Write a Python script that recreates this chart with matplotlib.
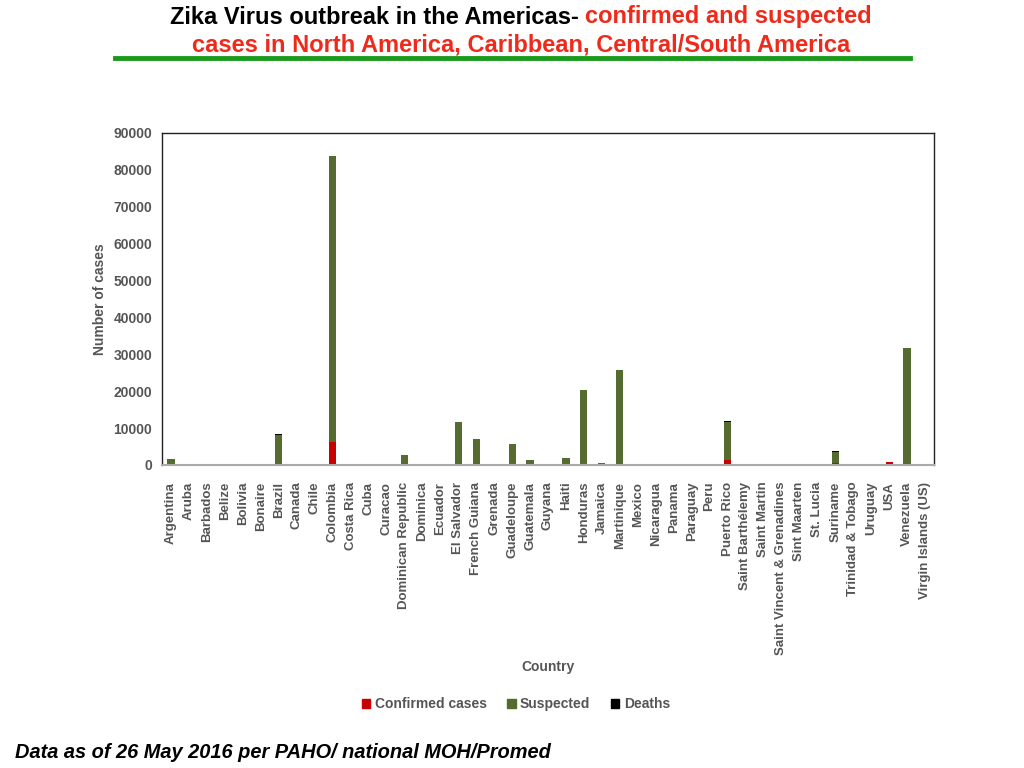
import matplotlib
matplotlib.use("Agg")
import matplotlib.pyplot as plt
from matplotlib.patches import Patch
from matplotlib.lines import Line2D
from matplotlib import font_manager
import numpy as np

countries = ["Argentina", "Aruba", "Barbados", "Belize", "Bolivia", "Bonaire", "Brazil",
             "Canada", "Chile", "Colombia", "Costa Rica", "Cuba", "Curacao",
             "Dominican Republic", "Dominica", "Ecuador", "El Salvador", "French Guiana",
             "Grenada", "Guadeloupe", "Guatemala", "Guyana", "Haiti", "Honduras", "Jamaica",
             "Martinique", "Mexico", "Nicaragua", "Panama", "Paraguay", "Peru", "Puerto Rico",
             "Saint Barthélemy", "Saint Martin", "Saint Vincent & Grenadines", "Sint Maarten",
             "St. Lucia", "Suriname", "Trinidad & Tobago", "Uruguay", "USA", "Venezuela",
             "Virgin Islands (US)"]
confirmed = [20, 100, 50, 50, 100, 20, 100,
             50, 60, 6300, 50, 20, 80,
             100, 50, 150, 50, 400,
             50, 100, 100, 50, 20, 50, 50,
             50, 300, 150, 200, 50, 100, 1400,
             50, 100, 50, 50,
             50, 600, 100, 0, 700, 0,
             50]
suspected = [1700, 0, 0, 0, 0, 0, 8100,
             0, 0, 77500, 0, 0, 0,
             2500, 0, 0, 11600, 6600,
             0, 5600, 1300, 0, 2000, 20200, 600,
             25700, 0, 0, 0, 0, 0, 10300,
             0, 0, 0, 0,
             0, 2900, 0, 0, 0, 31700,
             0]
deaths = [0, 0, 0, 0, 0, 0, 250,
          0, 0, 0, 0, 0, 0,
          0, 0, 0, 0, 0,
          0, 0, 0, 0, 0, 200, 0,
          0, 0, 0, 0, 0, 0, 300,
          0, 0, 0, 0,
          0, 250, 0, 0, 0, 0,
          0]
series_names = ["Confirmed cases", "Suspected", "Deaths"]
yticks = [0, 10000, 20000, 30000, 40000, 50000, 60000, 70000, 80000, 90000]

RED = "#c80000"
GREEN = "#556b2f"
BLACK = "#000000"
GRAY = "#555555"

names = {f.name for f in font_manager.fontManager.ttflist}
base = "Liberation Sans" if "Liberation Sans" in names else "DejaVu Sans"
narrow = "Liberation Sans Narrow" if "Liberation Sans Narrow" in names else base
plt.rcParams["font.family"] = [base, "DejaVu Sans"]

fig = plt.figure(figsize=(10.24, 7.68), dpi=100)
ax = fig.add_axes([162/1024, 1-465/768, 772/1024, 332/768])

x = np.arange(len(countries))
conf = np.array(confirmed, float)
susp = np.array(suspected, float)
dth = np.array(deaths, float)
w = 0.4
ax.bar(x, conf, w, color=RED, label=series_names[0])
ax.bar(x, susp, w, bottom=conf, color=GREEN, label=series_names[1])
ax.bar(x, dth, w, bottom=conf+susp, color=BLACK, label=series_names[2])

ax.set_xlim(-0.5, len(countries)-0.5)
ax.set_ylim(0, 90000)
ax.set_yticks(yticks)
ax.set_yticklabels([str(v) for v in yticks], fontsize=10, fontweight="bold", color=GRAY)
ax.set_xticks(x)
ax.set_xticklabels(countries, rotation=90, fontsize=9.5, fontweight="bold", color=GRAY)
ax.tick_params(axis="y", length=0, pad=7)
ax.tick_params(axis="x", length=0, pad=12)
for s in ["left", "top", "right"]:
    ax.spines[s].set_color("#222222")
    ax.spines[s].set_linewidth(1.0)
ax.spines["bottom"].set_color("#aaaaaa")
ax.spines["bottom"].set_linewidth(1.5)

ax.set_ylabel("Number of cases", fontsize=10, fontweight="bold", color=GRAY, labelpad=5)
fig.text(548/1024, 1-667/768, "Country", ha="center", va="center",
         fontsize=10, fontweight="bold", color=GRAY)

handles = [Patch(color=RED), Patch(color=GREEN), Patch(color=BLACK)]
fig.legend(handles, series_names, loc="center", bbox_to_anchor=(516/1024, 1-704/768),
           ncol=3, frameon=False, prop={"size": 10, "weight": "bold"},
           handlelength=0.6, handleheight=0.6, handletextpad=0.3, columnspacing=1.5,
           labelcolor=GRAY)

# Title with two colours
fig.canvas.draw()
r = fig.canvas.get_renderer()
tfs = 17
t1a = fig.text(0, 0, "Zika Virus outbreak in the Americas- ", fontsize=tfs, fontweight="bold",
               family=[narrow, "DejaVu Sans"], color="black", va="center")
t1b = fig.text(0, 0, "confirmed and suspected", fontsize=tfs, fontweight="bold",
               family=[narrow, "DejaVu Sans"], color="#ee2a1b", va="center")
wa = t1a.get_window_extent(r).width
wb = t1b.get_window_extent(r).width
cx = 521
y1 = 1 - 17/768
start = cx - (wa + wb)/2
t1a.set_position((start/1024, y1))
t1b.set_position(((start+wa)/1024, y1))
fig.text(521/1024, 1-45/768, "cases in North America, Caribbean, Central/South America",
         fontsize=tfs, fontweight="bold", family=[narrow, "DejaVu Sans"],
         color="#ee2a1b", ha="center", va="center")
fig.add_artist(Line2D([115/1024, 910/1024], [1-58/768, 1-58/768], color="#1a9a1a",
                      linewidth=3.5, transform=fig.transFigure))

fig.text(15/1024, 1-753/768, "Data as of 26 May 2016 per PAHO/ national MOH/Promed",
         fontsize=14.4, fontweight="bold", style="italic", color="black",
         ha="left", va="center")

fig.savefig("out.png", dpi=100)
